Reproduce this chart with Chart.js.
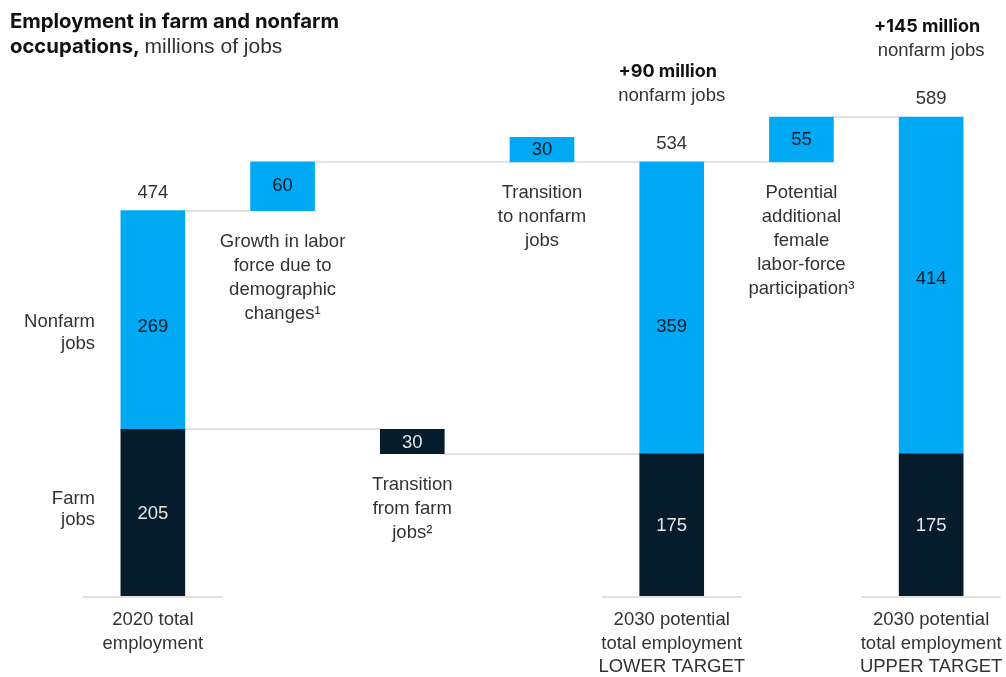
<!DOCTYPE html>
<html>
<head>
<meta charset="utf-8">
<script src="https://cdn.jsdelivr.net/npm/chart.js@4"></script>
<style>
  html, body { margin: 0; padding: 0; background: #fff; }
  #wrap { width: 1006px; height: 677px; position: relative; }
</style>
</head>
<body>
<div id="wrap"><canvas id="chart" width="1006" height="677"></canvas></div>
<script>
// Step labels, one entry per bar (lines of text)
const categories = [
  ['2020 total', 'employment'],
  ['Growth in labor', 'force due to', 'demographic', 'changes\u00B9'],
  ['Transition', 'from farm', 'jobs\u00B2'],
  ['Transition', 'to nonfarm', 'jobs'],
  ['2030 potential', 'total employment', 'LOWER TARGET'],
  ['Potential', 'additional', 'female', 'labor-force', 'participation\u00B3'],
  ['2030 potential', 'total employment', 'UPPER TARGET']
];
// 'total' bars start from zero, 'change' bars float from the running level
const barKinds = ['total', 'change', 'change', 'change', 'total', 'change', 'total'];
// Millions of jobs
const farmJobs    = [205, null, -30, null, 175, null, 175];
const nonfarmJobs = [269, 60, null, 30, 359, 55, 414];
const seriesNames = ['Farm jobs', 'Nonfarm jobs'];
const sideLabels  = [['Farm', 'jobs'], ['Nonfarm', 'jobs']];

const BLUE = '#00A9F4';
const NAVY = '#051C2C';
const TEXT = '#333333';
const LINE = '#E2E2E2';
const FONT = '"Liberation Sans", Arial, sans-serif';
const BOLD_FONT = 'Inter, "Liberation Sans", Arial, sans-serif';
const BODY = '18.5px ' + FONT;

// Build floating [low, high] ranges plus the level each bar starts from
function buildRanges() {
  const farm = [], nonfarm = [], farmStart = [], nonfarmStart = [];
  let farmLevel = 0, top = 0;
  for (let i = 0; i < categories.length; i++) {
    const f = farmJobs[i], n = nonfarmJobs[i];
    if (barKinds[i] === 'total') {
      farm[i] = f == null ? null : [0, f];
      farmStart[i] = 0;
      farmLevel = f;
      nonfarm[i] = n == null ? null : [f, f + n];
      nonfarmStart[i] = f;
      top = f + n;
    } else {
      if (f != null) {
        farm[i] = [Math.min(farmLevel, farmLevel + f), Math.max(farmLevel, farmLevel + f)];
        farmStart[i] = farmLevel;
        farmLevel += f;
      } else { farm[i] = null; }
      if (n != null) {
        nonfarm[i] = [Math.min(top, top + n), Math.max(top, top + n)];
        nonfarmStart[i] = top;
        top += n;
      } else { nonfarm[i] = null; }
    }
  }
  return { farm, nonfarm, farmStart, nonfarmStart };
}
const ranges = buildRanges();

// Nudges for the value text inside the nonfarm total segments (px)
const nonfarmLabelShift = [7, 0, 0, 0, 19, 0, -6];

const waterfallDecor = {
  id: 'waterfallDecor',
  beforeDatasetsDraw(chart) {
    const ctx = chart.ctx;
    const x = chart.scales.x, y = chart.scales.y;
    const half = 32;
    ctx.save();
    ctx.strokeStyle = LINE;
    ctx.lineWidth = 2;
    // connectors between consecutive bars of the same series
    const series = [
      { vals: farmJobs, r: ranges.farm, start: ranges.farmStart },
      { vals: nonfarmJobs, r: ranges.nonfarm, start: ranges.nonfarmStart }
    ];
    series.forEach(s => {
      let prev = -1;
      for (let j = 0; j < categories.length; j++) {
        if (s.vals[j] == null) continue;
        if (prev >= 0 && !(barKinds[prev] === 'total' && barKinds[j] === 'total')) {
          const level = barKinds[j] === 'change' ? s.start[j] : s.r[j][1];
          const yy = Math.round(y.getPixelForValue(level));
          ctx.beginPath();
          ctx.moveTo(x.getPixelForValue(prev) + half, yy);
          ctx.lineTo(x.getPixelForValue(j) - half, yy);
          ctx.stroke();
        }
        prev = j;
      }
    });
    // baselines under the totals
    const y0 = y.getPixelForValue(0) + 1;
    barKinds.forEach((k, i) => {
      if (k !== 'total') return;
      const cx = x.getPixelForValue(i);
      ctx.beginPath();
      ctx.moveTo(cx - 70, y0);
      ctx.lineTo(cx + 70, y0);
      ctx.stroke();
    });
    ctx.restore();
  },
  afterDatasetsDraw(chart) {
    const ctx = chart.ctx;
    const x = chart.scales.x, y = chart.scales.y;
    ctx.save();
    ctx.textAlign = 'center';
    ctx.textBaseline = 'middle';
    ctx.font = BODY;

    for (let i = 0; i < categories.length; i++) {
      const cx = x.getPixelForValue(i);
      const fr = ranges.farm[i], nr = ranges.nonfarm[i];
      // values inside the segments
      ctx.font = BODY;
      if (fr) {
        ctx.fillStyle = '#E6E6E6';
        ctx.fillText(String(Math.abs(farmJobs[i])), cx, y.getPixelForValue((fr[0] + fr[1]) / 2) + 1);
      }
      if (nr) {
        ctx.fillStyle = NAVY;
        ctx.fillText(String(Math.abs(nonfarmJobs[i])), cx,
          y.getPixelForValue((nr[0] + nr[1]) / 2) + nonfarmLabelShift[i]);
      }
      ctx.fillStyle = TEXT;
      if (barKinds[i] === 'total') {
        const total = farmJobs[i] + nonfarmJobs[i];
        const topPx = y.getPixelForValue(total);
        ctx.fillText(String(total), cx, topPx - 18);
        if (i > 0) {
          const gain = nonfarmJobs[i] - nonfarmJobs[0];
          ctx.font = 'bold 18px ' + BOLD_FONT;
          ctx.fillStyle = '#111';
          ctx.fillText('+' + gain + ' million', cx - 4, topPx - 90);
          ctx.font = BODY;
          ctx.fillStyle = TEXT;
          ctx.fillText('nonfarm jobs', cx, topPx - 66);
        }
        // category text under the baseline
        const base = y.getPixelForValue(0);
        categories[i].forEach((line, k) => ctx.fillText(line, cx, base + 24 + k * 23.5));
      } else {
        // step description under the floating bar
        const r = fr || nr;
        const bottom = y.getPixelForValue(r[0]);
        categories[i].forEach((line, k) => ctx.fillText(line, cx, bottom + 31 + k * 24));
      }
    }

    // series names beside the first bar
    ctx.font = BODY;
    ctx.textAlign = 'right';
    ctx.fillStyle = TEXT;
    const fr0 = ranges.farm[0], nr0 = ranges.nonfarm[0];
    const fMid = y.getPixelForValue((fr0[0] + fr0[1]) / 2);
    const nMid = y.getPixelForValue((nr0[0] + nr0[1]) / 2);
    sideLabels[0].forEach((t, k) => ctx.fillText(t, 95, fMid - 14 + k * 21.5));
    sideLabels[1].forEach((t, k) => ctx.fillText(t, 95, nMid + 2 + k * 21.5));

    // heading
    ctx.textAlign = 'left';
    ctx.textBaseline = 'alphabetic';
    ctx.fillStyle = '#111';
    ctx.font = 'bold 20.3px ' + BOLD_FONT;
    ctx.fillText('Employment in farm and nonfarm', 10, 28);
    const lead = 'occupations,';
    ctx.fillText(lead, 10, 53);
    const w = ctx.measureText(lead + ' ').width;
    ctx.font = '21px ' + FONT;
    ctx.fillStyle = TEXT;
    ctx.fillText('millions of jobs', 10 + w, 53);
    ctx.restore();
  }
};

new Chart(document.getElementById('chart'), {
  type: 'bar',
  data: {
    labels: categories,
    datasets: [
      { label: seriesNames[0], data: ranges.farm, backgroundColor: NAVY, borderWidth: 0, barThickness: 64 },
      { label: seriesNames[1], data: ranges.nonfarm, backgroundColor: BLUE, borderWidth: 0, barThickness: 64 }
    ]
  },
  options: {
    responsive: false,
    animation: false,
    events: [],
    layout: { padding: { left: 88, right: 10, top: 0, bottom: 81 } },
    plugins: { legend: { display: false }, tooltip: { enabled: false }, title: { display: false } },
    scales: {
      x: { display: false, stacked: true, offset: true },
      y: { display: false, stacked: false, min: 0, max: 733 }
    }
  },
  plugins: [waterfallDecor]
});
</script>
</body>
</html>
